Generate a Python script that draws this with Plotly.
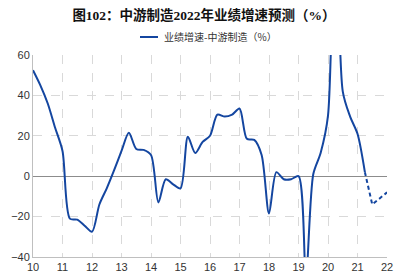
import plotly.graph_objects as go

# quarterly positions (year labels 10..22 = 2010..2022)
x_actual = [10.00, 10.25, 10.50, 10.75, 11.00, 11.25, 11.50, 11.75, 12.00, 12.25, 12.50, 12.75,
            13.00, 13.25, 13.50, 13.75, 14.00, 14.25, 14.50, 14.75, 15.00, 15.25, 15.50, 15.75,
            16.00, 16.25, 16.50, 16.75, 17.00, 17.25, 17.50, 17.75, 18.00, 18.25, 18.50, 18.75,
            19.00, 19.25, 19.50, 19.75, 20.00, 20.25, 20.50, 20.75, 21.00, 21.25]
y_actual = [52.5, 45, 36, 24, 12.5, -21, -21.5, -24.5, -27.5, -14, -6, 3,
            12.5, 21.5, 13.5, 13, 10.5, -13, -1.5, -4, -6, 19.5, 11.5, 17,
            20, 30.5, 29.5, 30.5, 33.5, 18.5, 18, 10.5, -18.5, 2, -1.5, -1.5,
            0, -50, 1, 11.5, 30, 150, 42, 29.5, 21, 2]
x_forecast = [21.25, 21.50, 21.75, 22.00]
y_forecast = [2, -14, -11, -8]

y_ticks = [-40, -20, 0, 20, 40, 60]
x_ticks = list(range(10, 23))
x_labels = [str(v) for v in x_ticks]

title_text = "图102：中游制造2022年业绩增速预测（%）"
legend_text = "业绩增速-中游制造（%）"

line_color = "#1446a0"

fig = go.Figure()
fig.add_trace(go.Scatter(x=x_actual, y=y_actual, mode="lines",
                         line=dict(color=line_color, width=2, shape="spline", smoothing=0.8),
                         showlegend=False))
fig.add_trace(go.Scatter(x=x_forecast, y=y_forecast, mode="lines",
                         line=dict(color=line_color, width=2, dash="4px,3px"),
                         showlegend=False))

fig.update_layout(
    width=408, height=272,
    margin=dict(l=33, r=21, t=55, b=15, autoexpand=False),
    paper_bgcolor="white", plot_bgcolor="white",
    title=dict(text="<b>" + title_text + "</b>", x=0.5, xanchor="center", y=0.945, yanchor="middle",
               font=dict(family="Liberation Serif, Noto Sans CJK SC", size=13.5, color="#111")),
    font=dict(family="Liberation Sans, Arial, sans-serif", size=11, color="#333"),
    xaxis=dict(range=[10, 22], tickvals=x_ticks, ticktext=x_labels, automargin=False,
               showgrid=True, gridcolor="#d9d9d9", griddash="dash", gridwidth=1,
               showline=True, linecolor="#bfbfbf", linewidth=1, zeroline=False,
               ticks="", tickfont=dict(size=11, color="#333")),
    yaxis=dict(range=[-40, 60], tickvals=y_ticks, automargin=False,
               showgrid=True, gridcolor="#d9d9d9", griddash="dash", gridwidth=1,
               showline=True, linecolor="#bfbfbf", linewidth=1,
               zeroline=True, zerolinecolor="#8c8c8c", zerolinewidth=1,
               ticks="", tickfont=dict(size=11, color="#333")),
)

# legend drawn manually (short line sample + text)
fig.add_shape(type="line", xref="paper", yref="paper",
              x0=(140 - 33) / 354, x1=(158 - 33) / 354,
              y0=(257 - 37) / 202, y1=(257 - 37) / 202,
              line=dict(color=line_color, width=2))
fig.add_annotation(xref="paper", yref="paper", x=(162 - 33) / 354, y=(257 - 37) / 202,
                   xanchor="left", yanchor="middle", showarrow=False,
                   text=legend_text,
                   font=dict(family="Noto Sans CJK SC", size=10, color="#333"))

fig.write_html("out.html")
